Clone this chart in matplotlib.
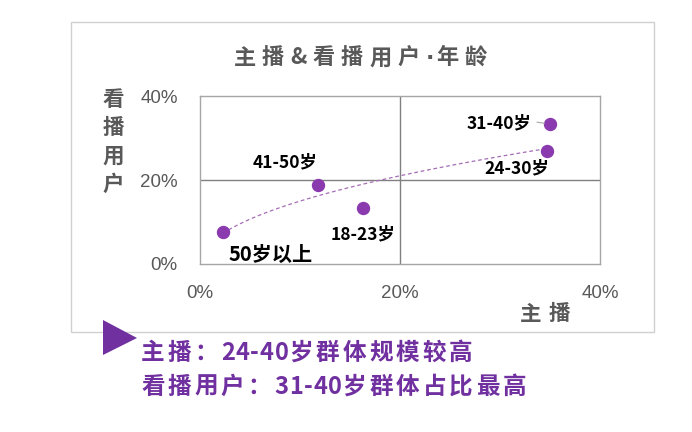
import numpy as np
import matplotlib
matplotlib.use("Agg")
import matplotlib.pyplot as plt
from matplotlib.patches import Rectangle, Polygon

# data (percent)
groups = ["50岁以上", "41-50岁", "18-23岁", "24-30岁", "31-40岁"]
anchor_share = [2.3, 11.8, 16.3, 34.7, 35.0]   # 主播
viewer_share = [7.6, 18.9, 13.3, 26.9, 33.3]   # 看播用户
ticks = [0, 20, 40]
tick_labels = ["0%", "20%", "40%"]

title = "主播&看播用户·年龄"
xlabel = "主播"
ylabel = "看播用户"
notes = ["主播：24-40岁群体规模较高", "看播用户：31-40岁群体占比最高"]

W, H = 692, 432
CJK = ["Noto Sans CJK SC", "DejaVu Sans"]
GRAY = "#595959"
PURPLE = "#7030a0"
DOT = "#8a3aae"

fig = plt.figure(figsize=(W / 100, H / 100), dpi=100)
renderer = fig.canvas.get_renderer()


def fx(px):
    return px / W


def fy(py):
    return 1 - py / H


# draw a string char by char with extra gap (pixels); ascii chars get a tighter gap
def spaced(x0, y, s, size, gap, color, ha="left", ascii_gap=None):
    if ascii_gap is None:
        ascii_gap = gap
    items = []
    for ch in s:
        fam = ["DejaVu Sans"] if ch == "·" else CJK
        if ch == "·":
            g = 2
        elif ch.isascii():
            g = ascii_gap
        else:
            g = gap
        t = fig.text(0, 0, ch, fontsize=size, family=fam, weight="bold")
        items.append((ch, fam, t.get_window_extent(renderer).width, g))
        t.remove()
    total = sum(w for _, _, w, _ in items) + sum(g for _, _, _, g in items[:-1])
    x = x0 - total / 2 if ha == "center" else x0
    for ch, fam, w, g in items:
        fig.text(fx(x), fy(y), ch, fontsize=size, family=fam, weight="bold",
                 color=color, va="center", ha="left")
        x += w + g


# outer chart frame
fig.patches.append(Rectangle((fx(71), fy(332)), fx(654) - fx(71), fy(22) - fy(332),
                             transform=fig.transFigure, fill=False,
                             edgecolor="#d0d0d0", lw=1))

ax = fig.add_axes([fx(200), fy(264), fx(400), 168 / H])
ax.set_xlim(0, 40)
ax.set_ylim(0, 40)
ax.set_xticks(ticks)
ax.set_yticks(ticks)
ax.set_xticklabels(tick_labels)
ax.set_yticklabels(tick_labels)
ax.tick_params(length=0, labelsize=13.5, labelcolor=GRAY)
ax.tick_params(axis="x", pad=15)
ax.tick_params(axis="y", pad=16)
for lab in ax.get_xticklabels() + ax.get_yticklabels():
    lab.set_family("Liberation Sans")
for sp in ax.spines.values():
    sp.set_color("#a6a6a6")
    sp.set_linewidth(1)
ax.axvline(20, color="#808080", lw=1)
ax.axhline(20, color="#808080", lw=1)

# power trendline fitted to the points
xs = np.array(anchor_share)
ys = np.array(viewer_share)
k, c = np.polyfit(np.log(xs), np.log(ys), 1)
xt = np.linspace(xs.min(), xs.max(), 100)
ax.plot(xt, np.exp(c) * xt ** k, color="#a56db5", lw=0.9, dashes=(3, 2.2), zorder=2)

ax.plot(xs, ys, "o", color=DOT, markersize=8.6, zorder=3)

offsets = {
    "50岁以上": (48, -22, 14.5),
    "41-50岁": (-33, 22, 12.5),
    "18-23岁": (0, -26, 12.5),
    "24-30岁": (-30, -17, 12.5),
    "31-40岁": (-51, 1, 12.5),
}
for g, x, y in zip(groups, anchor_share, viewer_share):
    dx, dy, sz = offsets[g]
    ax.annotate(g, (x, y), xytext=(dx, dy), textcoords="offset pixels",
                ha="center", va="center", fontsize=sz, weight="bold",
                family=CJK, color="black")

# leader line for 31-40
i = groups.index("31-40岁")
ax.annotate("", (anchor_share[i], viewer_share[i]), xytext=(-13, 2),
            textcoords="offset pixels",
            arrowprops=dict(arrowstyle="-", color="#a6a6a6", lw=0.8,
                            shrinkA=0, shrinkB=4))

spaced(360, 58, title, 16, 6, GRAY, ha="center")
spaced(520, 314, xlabel, 15.5, 7, GRAY)
for j, ch in enumerate(ylabel):
    fig.text(fx(113), fy(99 + j * 28.5), ch, fontsize=15.5, family=CJK,
             weight="bold", color=GRAY, ha="center", va="center")

fig.patches.append(Polygon([(fx(103), fy(320)), (fx(137), fy(338)), (fx(103), fy(355))],
                           closed=True, transform=fig.transFigure,
                           facecolor=PURPLE, edgecolor="none"))
spaced(141, 353, notes[0], 17, 3, PURPLE, ascii_gap=0.8)
spaced(141, 387, notes[1], 17, 3, PURPLE, ascii_gap=0.8)

fig.savefig("out.png", dpi=100)
